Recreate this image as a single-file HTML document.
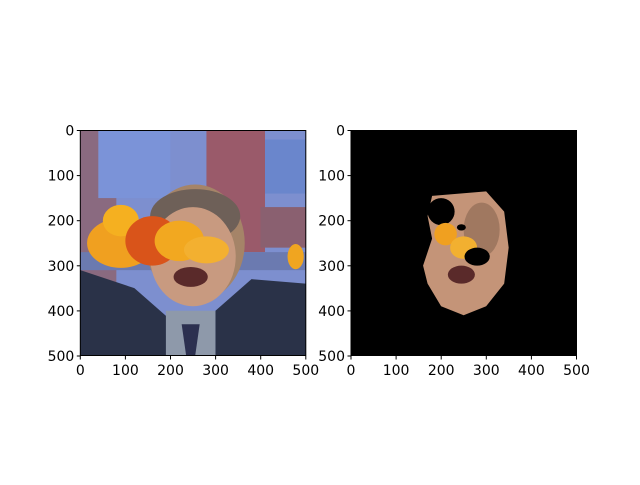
<!DOCTYPE html>
<html><head><meta charset="utf-8"><style>
body{margin:0;background:#fff;}
svg text{font-family:"DejaVu Sans","Liberation Sans",sans-serif;font-size:14px;fill:#000;}
</style></head><body>
<svg id="fig" width="640" height="480">
<defs>
<clipPath id="c1"><rect x="0" y="0" width="500" height="500"/></clipPath>
</defs>
<!-- left image -->
<g transform="translate(80.3,130.5) scale(0.4505)" clip-path="url(#c1)">
<rect width="500" height="500" fill="#7d8fcf"/>
<rect x="0" y="0" width="80" height="500" fill="#8a6a80"/>
<rect x="40" y="0" width="160" height="150" fill="#7b93d8"/>
<rect x="280" y="0" width="130" height="270" fill="#9a5a6a"/>
<rect x="410" y="20" width="90" height="120" fill="#6a86cc"/>
<rect x="400" y="170" width="100" height="90" fill="#8a6070"/>
<rect x="0" y="270" width="500" height="40" fill="#6b7ab0"/>
<ellipse cx="255" cy="250" rx="110" ry="130" fill="#a58468"/>
<ellipse cx="255" cy="190" rx="100" ry="60" fill="#6e6058"/>
<ellipse cx="250" cy="280" rx="95" ry="110" fill="#c89a80"/>
<path d="M0,310 L120,350 L200,420 L190,500 L0,500Z" fill="#2a3248"/>
<path d="M300,400 L380,330 L500,340 L500,500 L300,500Z" fill="#2a3248"/>
<path d="M190,400 L300,400 L300,500 L190,500Z" fill="#8e99aa"/>
<path d="M225,430 L265,430 L255,500 L235,500Z" fill="#2c3050"/>
<ellipse cx="245" cy="325" rx="38" ry="22" fill="#5a2a2a"/>
<g>
<ellipse cx="90" cy="250" rx="75" ry="55" fill="#f0a020"/>
<ellipse cx="90" cy="200" rx="40" ry="35" fill="#f5b020"/>
<ellipse cx="160" cy="245" rx="60" ry="55" fill="#d9541a"/>
<ellipse cx="220" cy="245" rx="55" ry="45" fill="#f2a820"/>
<ellipse cx="280" cy="265" rx="50" ry="30" fill="#f3b030"/>
<ellipse cx="478" cy="280" rx="18" ry="28" fill="#f0a520"/>
</g>
</g>
<rect x="80.3" y="130.5" width="225.5" height="225" fill="none" stroke="#000" stroke-width="1"/>
<!-- right image -->
<g transform="translate(351,130.5) scale(0.4505)" clip-path="url(#c1)">
<rect width="500" height="500" fill="#000"/>
<path d="M180,145 L300,135 L340,180 L350,260 L340,340 L300,390 L250,410 L200,390 L170,340 L160,300 L180,240 L170,190Z" fill="#c49478"/>
<ellipse cx="290" cy="220" rx="40" ry="60" fill="#a07860"/>
<ellipse cx="200" cy="180" rx="30" ry="30" fill="#000"/>
<ellipse cx="210" cy="230" rx="25" ry="25" fill="#f0a020"/>
<ellipse cx="250" cy="260" rx="30" ry="25" fill="#f2b030"/>
<ellipse cx="280" cy="280" rx="28" ry="20" fill="#000"/>
<ellipse cx="245" cy="215" rx="10" ry="7" fill="#000"/>
<ellipse cx="245" cy="320" rx="30" ry="20" fill="#5a2a2a"/>
</g>
<rect x="351" y="130.5" width="225.5" height="225" fill="none" stroke="#000" stroke-width="1"/>
<g id="ticks"></g>
</svg>
<script>
const xTickValues=[0,100,200,300,400,500];
const yTickValues=[0,100,200,300,400,500];
const axesLeft=[80.3,351];
const top0=130.5, size=225.5, maxV=500;
const g=document.getElementById('ticks');
const NS='http://www.w3.org/2000/svg';
function sx(x0,v){return x0+v/maxV*size;}
function sy(v){return top0+v/maxV*size;}
axesLeft.forEach((x0,ai)=>{
  xTickValues.forEach(v=>{
    const x=sx(x0,v);
    const l=document.createElementNS(NS,'line');
    l.setAttribute('x1',x);l.setAttribute('x2',x);l.setAttribute('y1',top0+size);l.setAttribute('y2',top0+size+3.5);
    l.setAttribute('stroke','#000');
    
    
    g.appendChild(l);
    const t=document.createElementNS(NS,'text');
    t.setAttribute('x',x);t.setAttribute('y',top0+size+19);t.setAttribute('text-anchor','middle');
    t.textContent=v;
    
    
    g.appendChild(t);
  });
  yTickValues.forEach(v=>{
    const y=sy(v);
    const l=document.createElementNS(NS,'line');
    l.setAttribute('x1',x0-3.5);l.setAttribute('x2',x0);l.setAttribute('y1',y);l.setAttribute('y2',y);
    l.setAttribute('stroke','#000');
    
    
    g.appendChild(l);
    const t=document.createElementNS(NS,'text');
    t.setAttribute('x',x0-6);t.setAttribute('y',y+5);t.setAttribute('text-anchor','end');
    t.textContent=v;
    
    
    g.appendChild(t);
  });
});
</script>
</body></html>
